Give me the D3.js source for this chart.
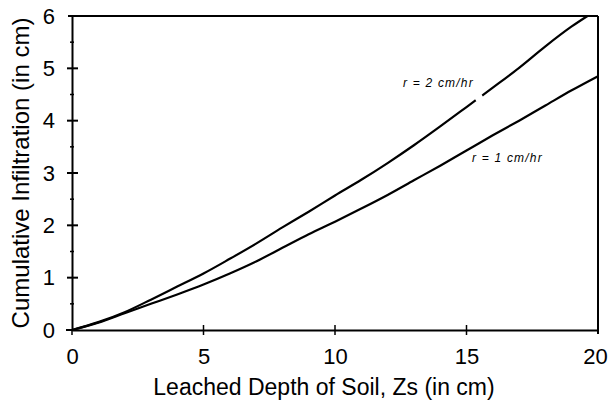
<!DOCTYPE html>
<html>
<head>
<meta charset="utf-8">
<script src="https://cdn.jsdelivr.net/npm/d3@7"></script>
<style>
  html, body { margin: 0; padding: 0; background: #fff; }
  svg { display: block; }
</style>
</head>
<body>
<svg id="chart" width="609" height="409"></svg>
<script>
// ---- data ----
const depth2 = [0, 1, 2, 3, 4, 5, 6, 7, 8, 9, 10, 11, 12, 13, 14, 15, 15.35, null, 15.6, 16, 17, 18, 19, 19.6];
const infil2 = [0, 0.15, 0.34, 0.58, 0.83, 1.08, 1.36, 1.65, 1.96, 2.26, 2.57, 2.87, 3.19, 3.53, 3.89, 4.26, 4.39, null, 4.48, 4.63, 5.01, 5.42, 5.80, 6.0];
const depth1 = [0, 1, 2, 3, 4, 5, 6, 7, 8, 9, 10, 11, 12, 13, 14, 15, 16, 17, 18, 19, 20];
const infil1 = [0, 0.14, 0.32, 0.5, 0.68, 0.87, 1.08, 1.31, 1.57, 1.83, 2.07, 2.32, 2.58, 2.86, 3.14, 3.43, 3.72, 4.0, 4.29, 4.58, 4.85];
const xTicks = [0, 5, 10, 15, 20];
const yTicks = [0, 1, 2, 3, 4, 5, 6];
const seriesLabels = ["r = 2 cm/hr", "r = 1 cm/hr"];
const xTitle = "Leached Depth of Soil, Zs (in cm)";
const yTitle = "Cumulative Infiltration (in cm)";

// ---- layout ----
const svg = d3.select("#chart");
const mLeft = 72, mRight = 598, mTop = 16, mBottom = 330;
const x = d3.scaleLinear().domain([0, 20]).range([mLeft, mRight]);
const y = d3.scaleLinear().domain([0, 6]).range([mBottom, mTop]);
const font = "Arial, 'Liberation Sans', Helvetica, sans-serif";

// frame: top and right borders
svg.append("line").attr("x1", mLeft - 4).attr("x2", mRight).attr("y1", mTop).attr("y2", mTop)
  .attr("stroke", "#000").attr("stroke-width", 2);
svg.append("line").attr("x1", mRight).attr("x2", mRight).attr("y1", mTop).attr("y2", mBottom + 4)
  .attr("stroke", "#000").attr("stroke-width", 2);

// y axis
const yAxis = d3.axisLeft(y).tickValues(yTicks).tickFormat(d3.format("d")).tickSize(0).tickPadding(17);
const gy = svg.append("g").attr("transform", `translate(${mLeft},0)`).call(yAxis);
gy.select(".domain").attr("stroke", "#000").attr("stroke-width", 2);
gy.selectAll("text").attr("font-family", font).attr("font-size", 22).attr("fill", "#000");
gy.selectAll(".maj").data(yTicks.slice(1, 6)).enter().append("line")
  .attr("x1", -5).attr("x2", 6).attr("y1", d => y(d)).attr("y2", d => y(d))
  .attr("stroke", "#000").attr("stroke-width", 2);
gy.selectAll(".min").data(yTicks.slice(0, 6).map(d => d + 0.5)).enter().append("line")
  .attr("x1", -2).attr("x2", 2).attr("y1", d => y(d)).attr("y2", d => y(d))
  .attr("stroke", "#000").attr("stroke-width", 1.5);
gy.append("line").attr("x1", 0).attr("x2", 0).attr("y1", mBottom).attr("y2", mBottom + 5)
  .attr("stroke", "#000").attr("stroke-width", 1.5);

// x axis
const xAxis = d3.axisBottom(x).tickValues(xTicks).tickFormat(d3.format("d")).tickSize(0).tickPadding(18);
const gx = svg.append("g").attr("transform", `translate(0,${mBottom})`).call(xAxis);
gx.select(".domain").attr("stroke", "#000").attr("stroke-width", 2);
gx.selectAll("text").attr("font-family", font).attr("font-size", 22).attr("fill", "#000");
gx.selectAll(".tick").filter(d => d === 20).select("text").attr("dx", -3);
gx.selectAll(".maj").data(xTicks.slice(1, 4)).enter().append("line")
  .attr("x1", d => x(d)).attr("x2", d => x(d)).attr("y1", -5).attr("y2", 5)
  .attr("stroke", "#000").attr("stroke-width", 1.5);
gx.append("line").attr("x1", mLeft - 6).attr("x2", mLeft).attr("y1", 0).attr("y2", 0)
  .attr("stroke", "#000").attr("stroke-width", 2);

// titles
svg.append("text").attr("x", 324).attr("y", 395)
  .attr("text-anchor", "middle").attr("font-family", font).attr("font-size", 23)
  .text(xTitle);
svg.append("text").attr("transform", `translate(29,173) rotate(-90)`)
  .attr("text-anchor", "middle").attr("font-family", font).attr("font-size", 24)
  .text(yTitle);

// curves
const line = d3.line()
  .defined(d => d[0] !== null)
  .x(d => x(d[0])).y(d => y(d[1]))
  .curve(d3.curveMonotoneX);
const s2 = depth2.map((d, i) => [d, infil2[i]]);
const s1 = depth1.map((d, i) => [d, infil1[i]]);
[s2, s1].forEach(s => {
  svg.append("path").datum(s).attr("d", line)
    .attr("fill", "none").attr("stroke", "#000").attr("stroke-width", 2.2);
});

// series labels
svg.append("text").attr("x", 403).attr("y", 87)
  .attr("font-family", font).attr("font-style", "italic").attr("font-size", 12)
  .attr("letter-spacing", 1.2).text(seriesLabels[0]);
svg.append("text").attr("x", 472).attr("y", 162)
  .attr("font-family", font).attr("font-style", "italic").attr("font-size", 12)
  .attr("letter-spacing", 1.2).text(seriesLabels[1]);
</script>
</body>
</html>
